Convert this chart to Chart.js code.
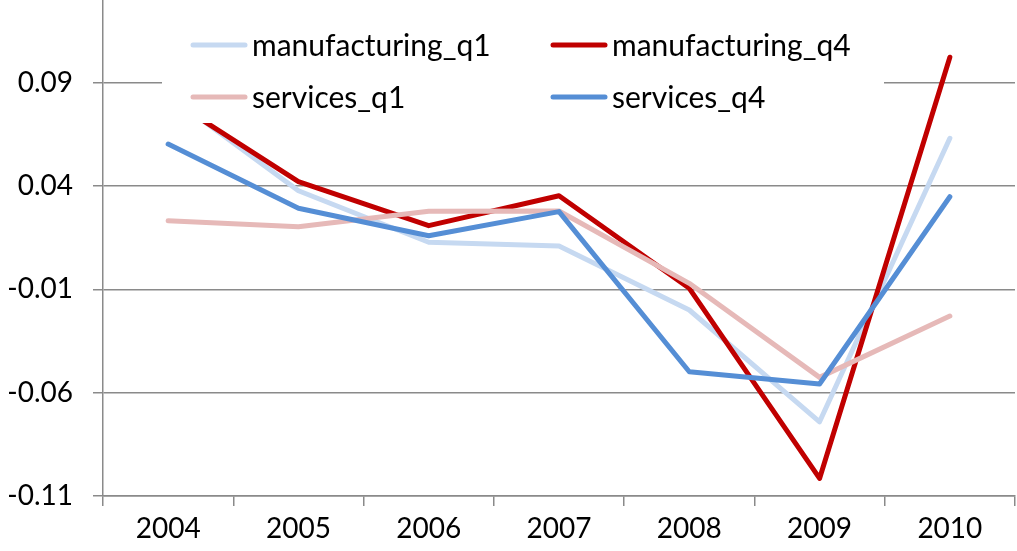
<!DOCTYPE html>
<html>
<head>
<meta charset="utf-8">
<script src="https://cdn.jsdelivr.net/npm/chart.js@4/dist/chart.umd.min.js"></script>
<style>
  html, body { margin: 0; padding: 0; background: #fff; }
  #wrap { width: 1017px; height: 551px; }
</style>
</head>
<body>
<div id="wrap"><canvas id="growthChart"></canvas></div>
<script>
const years = ["2004", "2005", "2006", "2007", "2008", "2009", "2010"];
const manufacturingQ1 = [0.084, 0.0377, 0.0128, 0.011, -0.02, -0.0741, 0.0631];
const manufacturingQ4 = [0.0825, 0.0421, 0.0208, 0.0353, -0.0095, -0.1015, 0.1023];
const servicesQ1 = [0.0232, 0.0203, 0.0278, 0.0279, -0.0071, -0.0526, -0.0229];
const servicesQ4 = [0.0603, 0.0292, 0.0159, 0.0276, -0.0499, -0.0558, 0.0348];
const yTicks = [-0.11, -0.06, -0.01, 0.04, 0.09];

const FONT = "Lato, 'Open Sans', sans-serif";
const gridColor = "#8a8a8a";

// legend sits inside the plot on a white box, like the excel original
const boxLegend = {
  id: "boxLegend",
  afterDatasetsDraw(chart) {
    const ctx = chart.ctx;
    ctx.save();
    ctx.fillStyle = "#fff";
    ctx.fillRect(162, 8, 722, 115);
    const cols = [193, 553];
    const rows = [45, 97];
    ctx.font = "30px " + FONT;
    ctx.textBaseline = "middle";
    ctx.fillStyle = "#000";
    chart.data.datasets.forEach((ds, i) => {
      const x = cols[i % 2];
      const y = rows[Math.floor(i / 2)];
      ctx.strokeStyle = ds.borderColor;
      ctx.lineWidth = 5;
      ctx.lineCap = "round";
      ctx.beginPath();
      ctx.moveTo(x, y);
      ctx.lineTo(x + 52, y);
      ctx.stroke();
      ctx.fillText(ds.label, x + 59, y + 1);
    });
    ctx.restore();
  },
};

function line(label, data, color, order) {
  return {
    label: label,
    data: data,
    borderColor: color,
    backgroundColor: color,
    borderWidth: 5,
    borderCapStyle: "round",
    borderJoinStyle: "round",
    pointRadius: 0,
    tension: 0,
    fill: false,
    order: order,
  };
}

new Chart(document.getElementById("growthChart"), {
  type: "line",
  data: {
    labels: years,
    datasets: [
      line("manufacturing_q1", manufacturingQ1, "#c6d9f1", 4),
      line("manufacturing_q4", manufacturingQ4, "#c00000", 3),
      line("services_q1", servicesQ1, "#e6b9b8", 2),
      line("services_q4", servicesQ4, "#558ed5", 1),
    ],
  },
  options: {
    responsive: true,
    maintainAspectRatio: false,
    animation: false,
    layout: { padding: { top: 0, right: 2, left: 0, bottom: 0 } },
    plugins: {
      legend: { display: false },
      tooltip: { enabled: false },
    },
    scales: {
      x: {
        offset: true,
        grid: {
          offset: true,
          drawOnChartArea: false,
          drawTicks: true,
          tickLength: 10,
          color: gridColor,
          lineWidth: 1.5,
        },
        border: { color: gridColor, width: 1.5 },
        ticks: {
          color: "#000",
          padding: 6,
          font: { family: FONT, size: 28 },
        },
        afterFit(scale) {
          scale.height = 55;
          scale.paddingLeft = 0;
          scale.paddingRight = 0;
        },
      },
      y: {
        min: -0.11,
        max: 0.13,
        afterBuildTicks(scale) {
          scale.ticks = yTicks.map((v) => ({ value: v }));
        },
        grid: {
          color: gridColor,
          lineWidth: 1.5,
          tickLength: 10,
        },
        border: { color: gridColor, width: 1.5 },
        ticks: {
          color: "#000",
          padding: 20,
          font: { family: FONT, size: 28 },
          callback: (v) => Number(v).toFixed(2),
        },
        afterFit(scale) {
          scale.width = 103;
          scale.paddingTop = 0;
          scale.paddingBottom = 0;
        },
      },
    },
  },
  plugins: [boxLegend],
});
</script>
</body>
</html>
